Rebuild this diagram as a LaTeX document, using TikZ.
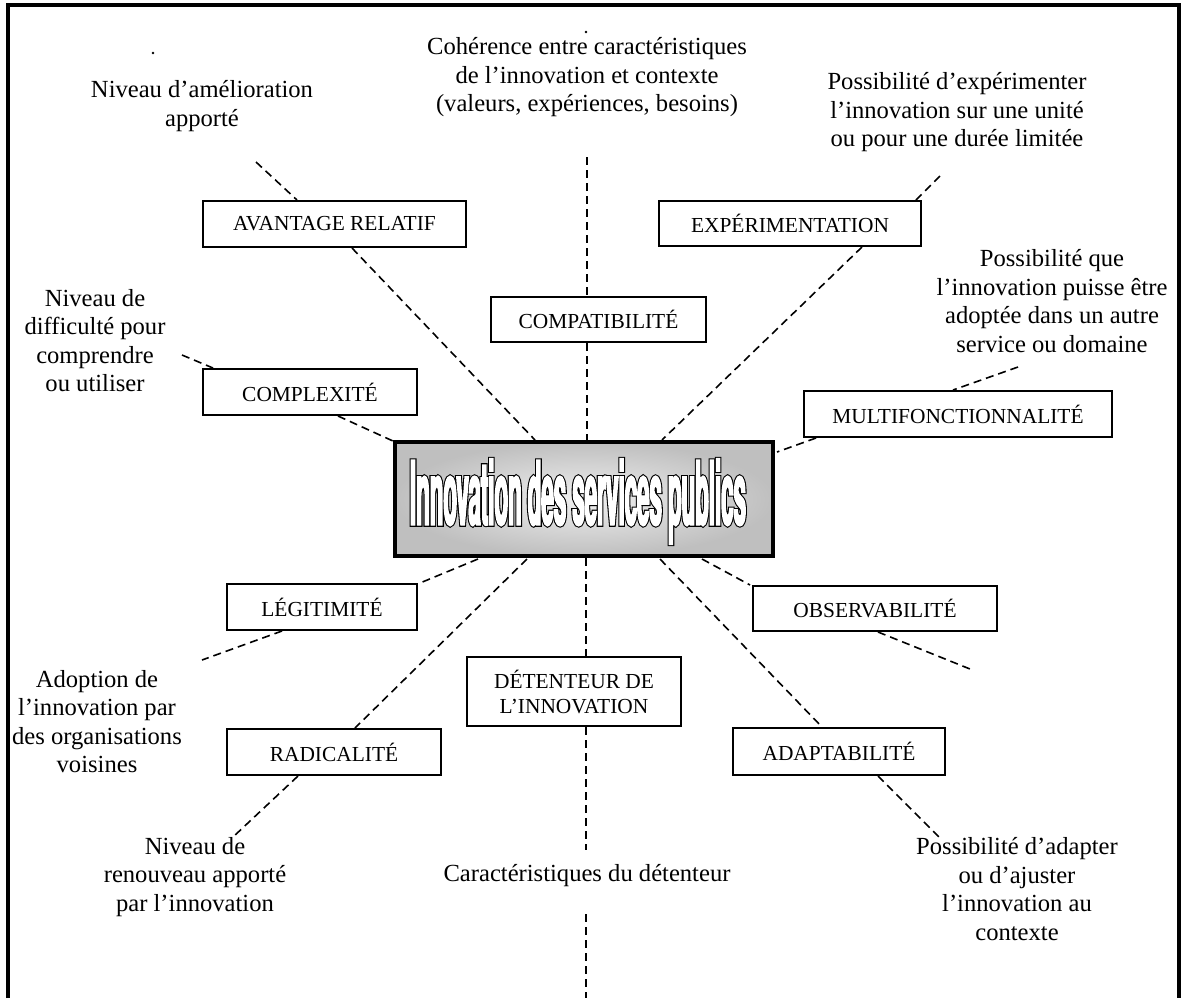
\documentclass[tikz,border=0pt]{standalone}
\usepackage{fontspec}
\setmainfont{Liberation Serif}
\newfontfamily\ttlB{TeX Gyre Heros Bold}[FakeStretch=0.25, FakeBold=4]
\newfontfamily\ttlW{TeX Gyre Heros Bold}[FakeStretch=0.25, FakeBold=1.6]
\begin{document}
\begin{tikzpicture}[x=0.5pt,y=-0.5pt,
  dl/.style={line width=0.8pt, dash pattern=on 4pt off 2.5pt},
  bx/.style={draw, line width=1pt, fill=white, inner sep=0pt, font=\fontsize{10.7}{12.5}\selectfont, align=center},
  lbl/.style={inner sep=0pt, align=center, font=\fontsize{12.3}{14.25}\selectfont, anchor=north}]
\useasboundingbox (0,0) rectangle (1185,998);
% frame
\draw[line width=2pt, line join=miter] (8,998) -- (8,5) -- (1179,5) -- (1179,998);

% central box
\node[draw, line width=2.2pt, inner color=gray!12, outer color=gray!50, minimum width=189pt, minimum height=57pt, inner sep=0pt] (c) at (584,499) {};
\node[anchor=base, inner sep=0pt] (ttl) at (578,525) {\rlap{\color{black}\ttlB\fontsize{44.5}{48}\selectfont Innovation des services publics}{\color{white}\ttlW\fontsize{44.5}{48}\selectfont Innovation des services publics}};

% coordinates
\coordinate (a1) at (256,162); \coordinate (a2) at (297,200);
\coordinate (a3) at (352,248); \coordinate (a4) at (535,440);
\coordinate (b1) at (587,157); \coordinate (b2) at (587,296);
\coordinate (b3) at (587,343); \coordinate (b4) at (587,440);
\coordinate (e1) at (940,176); \coordinate (e2) at (916,200);
\coordinate (e3) at (862,247); \coordinate (e4) at (662,440);
\coordinate (k1) at (182,355); \coordinate (k2) at (213,368);
\coordinate (k3) at (338,416); \coordinate (k4) at (393,441);
\coordinate (m1) at (1018,367); \coordinate (m2) at (953,390);
\coordinate (m3) at (816,438); \coordinate (m4) at (777,452);
\coordinate (g1) at (478,559); \coordinate (g2) at (420,583);
\coordinate (g3) at (282,631); \coordinate (g4) at (202,660);
\coordinate (r1) at (527,559); \coordinate (r2) at (355,728);
\coordinate (r3) at (298,776); \coordinate (r4) at (233,837);
\coordinate (d1) at (586,558); \coordinate (d2) at (586,656);
\coordinate (d3) at (586,727); \coordinate (d4) at (586,850);
\coordinate (d5) at (586,914); \coordinate (d6) at (586,998);
\coordinate (o1) at (702,559); \coordinate (o2) at (750,585);
\coordinate (o3) at (878,632); \coordinate (o4) at (970,669);
\coordinate (p1) at (660,559); \coordinate (p2) at (822,727);
\coordinate (p3) at (878,776); \coordinate (p4) at (940,838);

% connectors
\draw[dl] (a1) -- (a2); \draw[dl] (a3) -- (a4);
\draw[dl] (b1) -- (b2); \draw[dl] (b3) -- (b4);
\draw[dl] (e1) -- (e2); \draw[dl] (e3) -- (e4);
\draw[dl] (k1) -- (k2); \draw[dl] (k3) -- (k4);
\draw[dl] (m1) -- (m2); \draw[dl] (m3) -- (m4);
\draw[dl] (g1) -- (g2); \draw[dl] (g3) -- (g4);
\draw[dl] (r1) -- (r2); \draw[dl] (r3) -- (r4);
\draw[dl] (d1) -- (d2); \draw[dl] (d3) -- (d4); \draw[dl] (d5) -- (d6);
\draw[dl] (o1) -- (o2); \draw[dl] (o3) -- (o4);
\draw[dl] (p1) -- (p2); \draw[dl] (p3) -- (p4);
\fill (153,53) circle (0.7pt);
\fill (586,32) circle (0.7pt);

% boxes
\node[bx, minimum width=131.5pt, minimum height=23pt] (av) at (334.5,224) {AVANTAGE RELATIF};
\node[bx, minimum width=131pt, minimum height=22.5pt] (ex) at (790,223.5) {EXPÉRIMENTATION};
\node[bx, minimum width=107.5pt, minimum height=22.5pt] (cp) at (598.5,319.5) {COMPATIBILITÉ};
\node[bx, minimum width=107pt, minimum height=23pt] (cx) at (310,392) {COMPLEXITÉ};
\node[bx, minimum width=154pt, minimum height=23pt] (mf) at (958,414) {MULTIFONCTIONNALITÉ};
\node[bx, minimum width=95pt, minimum height=23pt] (lg) at (322,607) {LÉGITIMITÉ};
\node[bx, minimum width=107pt, minimum height=23pt] (rd) at (334,752) {RADICALITÉ};
\node[bx, minimum width=107pt, minimum height=34.5pt] (dt) at (574,691.5) {DÉTENTEUR DE\\L’INNOVATION};
\node[bx, minimum width=122pt, minimum height=22.5pt] (ob) at (875,608.5) {OBSERVABILITÉ};
\node[bx, minimum width=106pt, minimum height=23.5pt] (ad) at (839,751.5) {ADAPTABILITÉ};

% labels
\node[lbl] (t1) at (202,80) {Niveau d’amélioration\\apporté};
\node[lbl] (t2) at (587,37) {Cohérence entre caractéristiques\\de l’innovation et contexte\\(valeurs, expériences, besoins)};
\node[lbl] (t3) at (957,72) {Possibilité d’expérimenter\\l’innovation sur une unité\\ou pour une durée limitée};
\node[lbl] (t4) at (95,289) {Niveau de\\difficulté pour\\comprendre\\ou utiliser};
\node[lbl] (t5) at (1052,249) {Possibilité que\\l’innovation puisse être\\adoptée dans un autre\\service ou domaine};
\node[lbl] (t6) at (97,670) {Adoption de\\l’innovation par\\des organisations\\voisines};
\node[lbl] (t7) at (195,837) {Niveau de\\renouveau apporté\\par l’innovation};
\node[lbl] (t8) at (587,864) {Caractéristiques du détenteur};
\node[lbl] (t9) at (1017,837) {Possibilité d’adapter\\ou d’ajuster\\l’innovation au\\contexte};
\end{tikzpicture}
\end{document}
